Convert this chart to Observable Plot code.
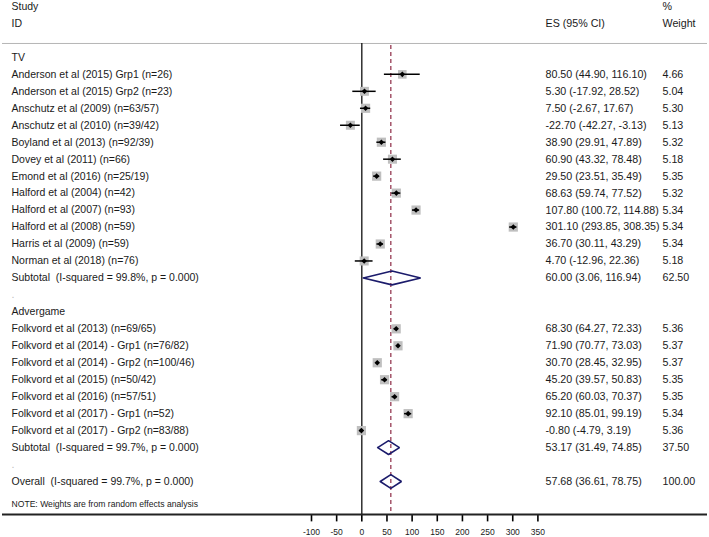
<!DOCTYPE html>
<html>
<head>
<meta charset="utf-8">
<script src="https://cdn.jsdelivr.net/npm/d3@7"></script>
<script src="https://cdn.jsdelivr.net/npm/@observablehq/plot@0.6"></script>
<style>
  html, body { margin: 0; padding: 0; background: #fff; }
  svg text { white-space: pre; }
</style>
</head>
<body>
<div id="chart"></div>
<script>
// ---- Data ----
const tvStudies = [
  "Anderson et al (2015) Grp1 (n=26)",
  "Anderson et al (2015) Grp2 (n=23)",
  "Anschutz et al (2009) (n=63/57)",
  "Anschutz et al (2010) (n=39/42)",
  "Boyland et al (2013) (n=92/39)",
  "Dovey et al (2011) (n=66)",
  "Emond et al (2016) (n=25/19)",
  "Halford et al (2004) (n=42)",
  "Halford et al (2007) (n=93)",
  "Halford et al (2008) (n=59)",
  "Harris et al (2009) (n=59)",
  "Norman et al (2018) (n=76)"
];
const tvES = [80.50, 5.30, 7.50, -22.70, 38.90, 60.90, 29.50, 68.63, 107.80, 301.10, 36.70, 4.70];
const tvLo = [44.90, -17.92, -2.67, -42.27, 29.91, 43.32, 23.51, 59.74, 100.72, 293.85, 30.11, -12.96];
const tvHi = [116.10, 28.52, 17.67, -3.13, 47.89, 78.48, 35.49, 77.52, 114.88, 308.35, 43.29, 22.36];
const tvWeight = [4.66, 5.04, 5.30, 5.13, 5.32, 5.18, 5.35, 5.32, 5.34, 5.34, 5.34, 5.18];

const advStudies = [
  "Folkvord et al (2013) (n=69/65)",
  "Folkvord et al (2014) - Grp1 (n=76/82)",
  "Folkvord et al (2014) - Grp2 (n=100/46)",
  "Folkvord et al (2015) (n=50/42)",
  "Folkvord et al (2016) (n=57/51)",
  "Folkvord et al (2017) - Grp1 (n=52)",
  "Folkvord et al (2017) - Grp2 (n=83/88)"
];
const advES = [68.30, 71.90, 30.70, 45.20, 65.20, 92.10, -0.80];
const advLo = [64.27, 70.77, 28.45, 39.57, 60.03, 85.01, -4.79];
const advHi = [72.33, 73.03, 32.95, 50.83, 70.37, 99.19, 3.19];
const advWeight = [5.36, 5.37, 5.37, 5.35, 5.35, 5.34, 5.36];

const groupNames = ["TV", "Advergame"];
const subtotalES = [60.00, 53.17];
const subtotalLo = [3.06, 31.49];
const subtotalHi = [116.94, 74.85];
const subtotalWeight = [62.50, 37.50];
const subtotalI2 = ["99.8%", "99.7%"];
const subtotalP = ["0.000", "0.000"];

const overallES = 57.68, overallLo = 36.61, overallHi = 78.75, overallWeight = 100.00;
const overallI2 = "99.7%", overallP = "0.000";

const xTicks = [-100, -50, 0, 50, 100, 150, 200, 250, 300, 350];
const headerLeft = ["Study", "ID"];
const headerES = "ES (95% CI)";
const headerWeight = ["%", "Weight"];
const noteText = "NOTE: Weights are from random effects analysis";

// ---- Build rows ----
const fmt = v => v.toFixed(2);
const rows = [];
let i = 0;
const groups = [
  {s: tvStudies, es: tvES, lo: tvLo, hi: tvHi, w: tvWeight},
  {s: advStudies, es: advES, lo: advLo, hi: advHi, w: advWeight}
];
groups.forEach((g, gi) => {
  rows.push({i: i++, label: groupNames[gi], kind: "group"});
  g.s.forEach((name, k) => {
    rows.push({i: i++, label: name, kind: "study", es: g.es[k], lo: g.lo[k], hi: g.hi[k], w: g.w[k]});
  });
  rows.push({i: i++, label: `Subtotal  (I-squared = ${subtotalI2[gi]}, p = ${subtotalP[gi]})`, kind: "summary",
    es: subtotalES[gi], lo: subtotalLo[gi], hi: subtotalHi[gi], w: subtotalWeight[gi]});
  rows.push({i: i++, label: ".", kind: "blank"});
});
rows.push({i: i++, label: `Overall  (I-squared = ${overallI2}, p = ${overallP})`, kind: "summary",
  es: overallES, lo: overallLo, hi: overallHi, w: overallWeight});

const studyRows = rows.filter(d => d.kind === "study");
const summaryRows = rows.filter(d => d.kind === "summary");
const valueRows = rows.filter(d => d.es !== undefined);

const diamondH = 0.41;
const diamondPts = summaryRows.flatMap(d => [
  {x: d.lo, y: d.i, z: d.i},
  {x: d.es, y: d.i - diamondH, z: d.i},
  {x: d.hi, y: d.i, z: d.i},
  {x: d.es, y: d.i + diamondH, z: d.i},
  {x: d.lo, y: d.i, z: d.i}
]);

const headerRows = [
  {i: -3, left: headerLeft[0], w: headerWeight[0], es: ""},
  {i: -2, left: headerLeft[1], w: headerWeight[1], es: headerES}
];

const textColor = "#1a1a1a";
const fs = 10.5;
const fsCol = 10.7;
// layout rows (in row units) for the top rule, axis line and tick ends
const topRow = -0.82, dashTopRow = -0.7, axisRow = 26.95, tickEndRow = 27.38;

const chart = Plot.plot({
  width: 709,
  height: 537,
  marginTop: 43,
  marginBottom: 23,
  marginLeft: 2,
  marginRight: 2,
  style: {fontFamily: "'Liberation Sans', Arial, sans-serif", fontSize: "10.5px", color: textColor, background: "#fff"},
  x: {domain: [-100, 350], range: [311, 537.4]},
  y: {domain: [-3, 25], range: [6, 481], axis: null},
  r: {type: "sqrt", domain: [0, 5.37], range: [0, 5.2]},
  marks: [
    Plot.ruleY([topRow], {y: d => d, stroke: "#b5b5b5", strokeWidth: 1}),
    Plot.ruleX(xTicks, {x: d => d, y1: axisRow, y2: tickEndRow, stroke: "#000", strokeWidth: 1.6}),
    Plot.axisX({ticks: xTicks, tickSize: 0, tickPadding: 14, fontSize: 8.5, label: null, fill: textColor, tickFormat: d => String(d)}),
    Plot.ruleY([axisRow], {y: d => d, stroke: "#222", strokeWidth: 2}),
    Plot.ruleX([0], {y1: topRow, y2: axisRow, stroke: "#111", strokeWidth: 1.3}),
    Plot.ruleX([overallES], {stroke: "#8e2a45", strokeWidth: 1.2, strokeDasharray: "4,3", y1: dashTopRow, y2: axisRow}),
    // weight boxes
    Plot.dot(studyRows, {x: "es", y: "i", r: "w", symbol: "square", fill: "#bfbfbf", stroke: "none"}),
    // CI lines
    Plot.ruleY(studyRows, {y: "i", x1: "lo", x2: "hi", stroke: "#000", strokeWidth: 1.5}),
    // point estimates
    Plot.dot(studyRows, {x: "es", y: "i", r: 2.5, symbol: "diamond2", fill: "#000", stroke: "none"}),
    // summary diamonds
    Plot.line(diamondPts, {x: "x", y: "y", z: "z", stroke: "#1b1b6b", strokeWidth: 1.6, strokeLinejoin: "miter", curve: "linear"}),
    // left labels
    Plot.text(rows.filter(d => d.kind !== "blank"), {y: "i", text: "label", frameAnchor: "left", textAnchor: "start", dx: 9, fill: textColor, fontSize: fs}),
    Plot.text(rows.filter(d => d.kind === "blank"), {y: "i", text: "label", frameAnchor: "left", textAnchor: "start", dx: 9, fill: "#bbb", fontSize: fs}),
    // ES column
    Plot.text(valueRows, {y: "i", text: d => `${fmt(d.es)} (${fmt(d.lo)}, ${fmt(d.hi)})`, frameAnchor: "left", textAnchor: "start", dx: 543, fill: textColor, fontSize: fsCol}),
    // weight column
    Plot.text(valueRows, {y: "i", text: d => fmt(d.w), frameAnchor: "left", textAnchor: "start", dx: 660, fill: textColor, fontSize: fsCol}),
    // headers
    Plot.text(headerRows, {y: "i", text: "left", frameAnchor: "left", textAnchor: "start", dx: 9, fill: textColor, fontSize: fs}),
    Plot.text(headerRows, {y: "i", text: "es", frameAnchor: "left", textAnchor: "start", dx: 543, fill: textColor, fontSize: fsCol}),
    Plot.text(headerRows, {y: "i", text: "w", frameAnchor: "left", textAnchor: "start", dx: 660, fill: textColor, fontSize: fsCol}),
    // note
    Plot.text([noteText], {text: d => d, frameAnchor: "bottom-left", textAnchor: "start", dx: 9, dy: -7.5, fill: textColor, fontSize: 8.6})
  ]
});
document.getElementById("chart").appendChild(chart);
</script>
</body>
</html>
